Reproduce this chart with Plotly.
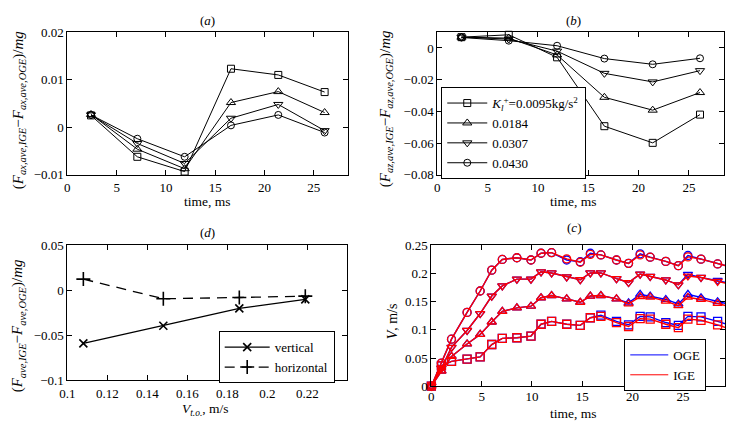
import plotly.graph_objects as go

W, H = 739, 428
FONT = "Liberation Serif"

# ---------------- data ----------------
# panels (a) and (b): averaged forces vs time
t_ab = [2.4, 7.1, 11.9, 16.6, 21.4, 26.1]
series_names = ["<i>K</i><sub><i>l</i></sub><sup>+</sup>=0.0095kg/s<sup>2</sup>", "0.0184", "0.0307", "0.0430"]
series_symbols = ["square-open", "triangle-up-open", "triangle-down-open", "circle-open"]

a_k1 = [0.0025, -0.0062, -0.0093, 0.0123, 0.0110, 0.0074]
a_k2 = [0.0027, -0.0046, -0.0087, 0.0052, 0.0075, 0.0031]
a_k3 = [0.0026, -0.0034, -0.0076, 0.0019, 0.0048, -0.0007]
a_k4 = [0.0026, -0.0024, -0.0062, 0.0004, 0.0026, -0.0011]

b_k1 = [0.0068, 0.0083, -0.0059, -0.0493, -0.0598, -0.0420]
b_k2 = [0.0068, 0.0062, -0.0044, -0.0311, -0.0392, -0.0281]
b_k3 = [0.0068, 0.0056, -0.0020, -0.0160, -0.0214, -0.0143]
b_k4 = [0.0066, 0.0046, 0.0014, -0.0067, -0.0103, -0.0065]

# panel (d)
v_to = [0.108, 0.148, 0.186, 0.219]
d_vertical = [-0.0589, -0.0393, -0.0200, -0.0100]
d_horizontal = [0.0125, -0.0093, -0.0079, -0.0064]

# panel (c): velocity vs time
t_c = [0, 1.0, 2.0, 3.55, 4.85, 6.0, 7.05, 8.5, 9.9, 10.9, 11.95, 13.45, 14.8,
       15.8, 16.85, 18.4, 19.6, 20.75, 21.75, 23.3, 24.55, 25.5, 26.8, 28.45, 29.9]
ige_c1 = [0, 0.036, 0.044, 0.048, 0.052, 0.074, 0.085, 0.086, 0.089, 0.110, 0.115, 0.110, 0.108,
          0.1215, 0.124, 0.113, 0.106, 0.120, 0.119, 0.110, 0.104, 0.119, 0.117, 0.109, 0.100]
ige_c2 = [0, 0.027, 0.053, 0.075, 0.092, 0.114, 0.133, 0.139, 0.142, 0.157, 0.161, 0.155, 0.149,
          0.160, 0.161, 0.155, 0.146, 0.159, 0.158, 0.151, 0.143, 0.158, 0.154, 0.147, 0.140]
ige_c3 = [0, 0.032, 0.069, 0.099, 0.129, 0.160, 0.178, 0.190, 0.190, 0.203, 0.201, 0.194, 0.189,
          0.201, 0.201, 0.191, 0.184, 0.199, 0.195, 0.1886, 0.180, 0.1955, 0.193, 0.186, 0.180]
ige_c4 = [0, 0.041, 0.0835, 0.131, 0.169, 0.206, 0.225, 0.228, 0.224, 0.236, 0.237, 0.226, 0.220,
          0.234, 0.233, 0.224, 0.218, 0.233, 0.229, 0.2215, 0.214, 0.2295, 0.2255, 0.217, 0.211]
oge_c1 = [0, 0.036, 0.044, 0.048, 0.052, 0.074, 0.085, 0.086, 0.089, 0.110, 0.115, 0.110, 0.108,
          0.1215, 0.126, 0.115, 0.109, 0.124, 0.123, 0.113, 0.108, 0.124, 0.123, 0.115, 0.107]
oge_c2 = [0, 0.027, 0.053, 0.075, 0.092, 0.114, 0.133, 0.139, 0.142, 0.157, 0.161, 0.155, 0.149,
          0.160, 0.161, 0.155, 0.148, 0.163, 0.160, 0.154, 0.146, 0.163, 0.157, 0.150, 0.144]
oge_c3 = [0, 0.032, 0.069, 0.099, 0.129, 0.160, 0.178, 0.190, 0.190, 0.203, 0.201, 0.194, 0.189,
          0.201, 0.201, 0.191, 0.184, 0.199, 0.195, 0.1886, 0.180, 0.1985, 0.193, 0.188, 0.182]
oge_c4 = [0, 0.041, 0.0835, 0.131, 0.169, 0.206, 0.225, 0.228, 0.224, 0.236, 0.237, 0.224, 0.221,
          0.236, 0.233, 0.224, 0.218, 0.235, 0.229, 0.2215, 0.214, 0.232, 0.2255, 0.217, 0.211]
c_symbols = ["square-open", "triangle-up-open", "triangle-down-open", "circle-open"]

# ---------------- figure ----------------
fig = go.Figure()

def px_x(p):
    return p / W

def px_y(p):
    return 1 - p / H

dom = {
    "a": ([60, 344], [26, 174]),
    "b": ([434, 724], [26, 174]),
    "d": ([60, 343], [247, 387]),
    "c": ([428, 725], [247, 393]),
}
axis_ids = {"a": ("x", "y"), "b": ("x2", "y2"), "d": ("x3", "y3"), "c": ("x4", "y4")}

# (a)
for ys, sym in zip([a_k1, a_k2, a_k3, a_k4], series_symbols):
    fig.add_trace(go.Scatter(x=t_ab, y=ys, mode="lines+markers", xaxis="x", yaxis="y",
                             line=dict(color="black", width=1), showlegend=False, cliponaxis=False,
                             marker=dict(symbol=sym, size=8 if "triangle" in sym else 7,
                                         color="black", line=dict(width=1))))
# (b)
for ys, sym, nm in zip([b_k1, b_k2, b_k3, b_k4], series_symbols, series_names):
    fig.add_trace(go.Scatter(x=t_ab, y=ys, mode="lines+markers", xaxis="x2", yaxis="y2", name=nm,
                             legend="legend", line=dict(color="black", width=1), cliponaxis=False,
                             marker=dict(symbol=sym, size=8 if "triangle" in sym else 7,
                                         color="black", line=dict(width=1))))
# (d)
fig.add_trace(go.Scatter(x=v_to, y=d_vertical, mode="lines+markers", xaxis="x3", yaxis="y3",
                         name="vertical", legend="legend2", line=dict(color="black", width=1.3),
                         marker=dict(symbol="x-thin-open", size=8, color="black", line=dict(width=1.6))))
fig.add_trace(go.Scatter(x=v_to, y=d_horizontal, mode="lines+markers", xaxis="x3", yaxis="y3",
                         name="horizontal", legend="legend2",
                         line=dict(color="black", width=1.3, dash="10px,7px"),
                         marker=dict(symbol="cross-thin-open", size=10, color="black", line=dict(width=1.6))))

# (c)
for group, color in [([oge_c1, oge_c2, oge_c3, oge_c4], "blue"), ([ige_c1, ige_c2, ige_c3, ige_c4], "red")]:
    for ys, sym in zip(group, c_symbols):
        fig.add_trace(go.Scatter(x=t_c, y=ys, mode="lines", xaxis="x4", yaxis="y4", showlegend=False,
                                 line=dict(color=color, width=1.4)))
        fig.add_trace(go.Scatter(x=t_c[:-1], y=ys[:-1], mode="markers", xaxis="x4", yaxis="y4",
                                 showlegend=False, cliponaxis=False,
                                 marker=dict(symbol=sym, size=8, color=color, line=dict(width=1.3))))
for nm, color in [("OGE", "blue"), ("IGE", "red")]:
    fig.add_trace(go.Scatter(x=[None], y=[None], mode="lines", xaxis="x4", yaxis="y4", name=nm,
                             legend="legend3", line=dict(color=color, width=1)))

axstyle = dict(showline=True, linecolor="black", linewidth=1, mirror="ticks", ticks="inside",
               ticklen=5, tickcolor="black", showgrid=False, zeroline=False,
               tickfont=dict(family=FONT, size=13, color="black"))

xr = {"a": [0, 28.5], "b": [0, 28.5], "d": [0.1, 0.24], "c": [0, 29.2]}
yr = {"a": [-0.01, 0.02], "b": [-0.08, 0.01], "d": [-0.1, 0.05], "c": [0, 0.25]}
xt = {"a": [0, 5, 10, 15, 20, 25], "b": [0, 5, 10, 15, 20, 25],
      "d": [0.1, 0.12, 0.14, 0.16, 0.18, 0.2, 0.22], "c": [0, 5, 10, 15, 20, 25]}
yt = {"a": [-0.01, 0, 0.01, 0.02], "b": [-0.08, -0.06, -0.04, -0.02, 0],
      "d": [-0.1, -0.05, 0, 0.05], "c": [0, 0.05, 0.1, 0.15, 0.2, 0.25]}
xstandoff = {"a": 0, "b": 0, "d": 1, "c": -2}

layout = dict(width=W, height=H, margin=dict(l=0, r=0, t=0, b=0),
              paper_bgcolor="white", plot_bgcolor="white",
              font=dict(family=FONT, size=13, color="black"))
for k, (xa, ya) in axis_ids.items():
    xd, yd = dom[k]
    xname = "xaxis" + xa[1:]
    yname = "yaxis" + ya[1:]
    layout[xname] = dict(axstyle, domain=[px_x(xd[0]), px_x(xd[1])], range=xr[k], tickvals=xt[k],
                         anchor=ya, ticklabelstandoff=xstandoff[k])
    layout[yname] = dict(axstyle, domain=[px_y(yd[1]), px_y(yd[0])], range=yr[k], tickvals=yt[k],
                         anchor=xa)

legstyle = dict(bgcolor="white", bordercolor="black", borderwidth=1,
                font=dict(family=FONT, size=13, color="black"), xanchor="left", yanchor="top",
                tracegroupgap=0)
layout["legend"] = dict(legstyle, x=px_x(438), y=px_y(83), itemwidth=40)
layout["legend2"] = dict(legstyle, x=px_x(213), y=px_y(336), itemwidth=45)
layout["legend3"] = dict(legstyle, x=px_x(623), y=px_y(344), itemwidth=38)

fig.update_layout(**layout)

ann = []
def add_text(text, x, y, size=13, angle=0):
    ann.append(dict(text=text, x=px_x(x), y=px_y(y), xref="paper", yref="paper", showarrow=False,
                    xanchor="center", yanchor="middle", textangle=angle,
                    font=dict(family=FONT, size=size, color="black")))

add_text("(<i>a</i>)", 202, 14)
add_text("(<i>b</i>)", 572, 14)
add_text("(<i>d</i>)", 202, 234)
add_text("(<i>c</i>)", 572, 229)
add_text("time, ms", 202, 202, size=13.5)
add_text("time, ms", 572, 202, size=13.5)
add_text("time, ms", 572, 421, size=13.5)
add_text("<i>V</i><sub><i>t.o.</i></sub>, m/s", 200, 417, size=13.5)
add_text("(<i>F</i><sub><i>ax,ave,IGE</i></sub>−<i>F</i><sub><i>ax,ave,OGE</i></sub>)/<i>mg</i>",
         11, 107, size=15, angle=-90)
add_text("(<i>F</i><sub><i>az,ave,IGE</i></sub>−<i>F</i><sub><i>az,ave,OGE</i></sub>)/<i>mg</i>",
         382, 105, size=15, angle=-90)
add_text("(<i>F</i><sub><i>ave,IGE</i></sub>−<i>F</i><sub><i>ave,OGE</i></sub>)/<i>mg</i>",
         11, 330, size=15, angle=-90)
add_text("<i>V</i>, m/s", 389, 326, size=14, angle=-90)
fig.update_layout(annotations=ann)

fig.write_html("out.html")
